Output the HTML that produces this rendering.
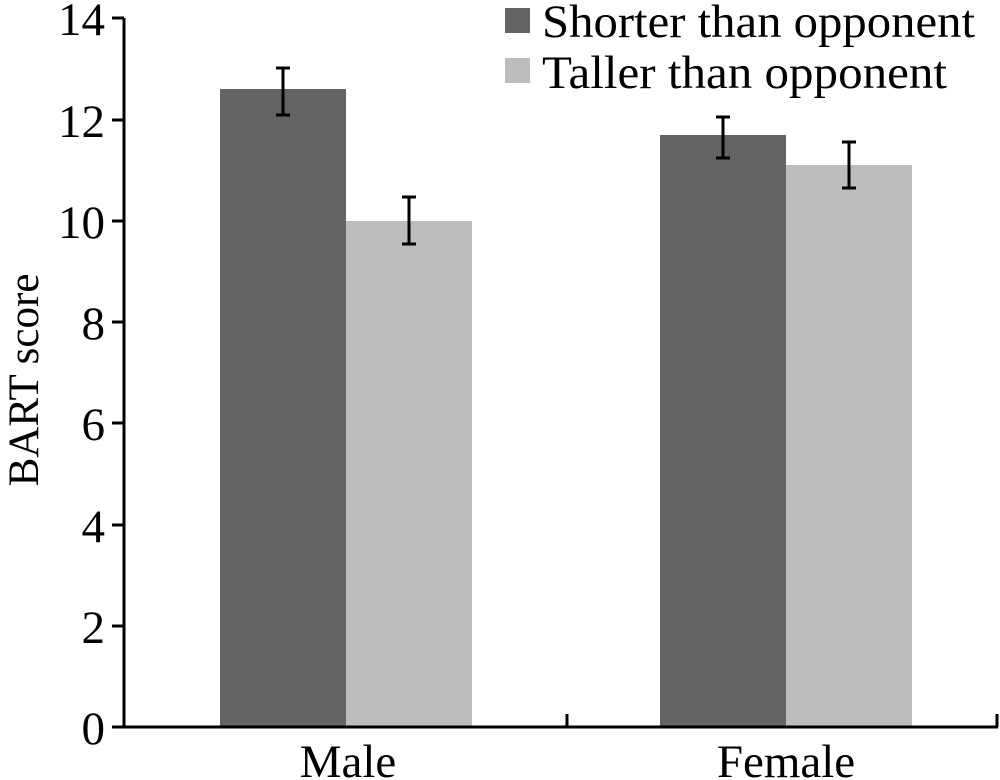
<!DOCTYPE html>
<html><head><style>body{margin:0;background:#fff}svg{display:block}</style></head><body>
<svg width="1000" height="780" xmlns="http://www.w3.org/2000/svg" font-family="Liberation Serif, serif">
<g fill="#646464">
<rect x="220" y="89" width="126" height="638"/>
<rect x="660" y="135" width="126" height="592"/>
<rect x="505" y="8" width="25" height="25"/>
</g>
<g fill="#bdbdbd">
<rect x="346" y="221" width="126" height="506"/>
<rect x="786" y="165" width="126" height="562"/>
<rect x="505" y="58" width="25" height="25"/>
</g>
<g stroke="#000" stroke-width="3" fill="none">
<path d="M283 68V115M276 68H290M276 115H290"/>
<path d="M409 197V244M402 197H416M402 244H416"/>
<path d="M723 117V158M716 117H730M716 158H730"/>
<path d="M849 142V188M842 142H856M842 188H856"/>
<path d="M124 18V727H998"/>
<path d="M567 727V714M997 727V714"/>
<path d="M124 18H112M124 120H112M124 221H112M124 322H112M124 423H112M124 525H112M124 626H112M124 727H112"/>
</g>
<g font-size="47" text-anchor="end">
<text x="105" y="35">14</text><text x="105" y="137">12</text><text x="105" y="238">10</text>
<text x="105" y="339">8</text><text x="105" y="440">6</text><text x="105" y="542">4</text>
<text x="105" y="643">2</text><text x="105" y="744">0</text>
</g>
<g font-size="47" text-anchor="middle">
<text x="348" y="777">Male</text><text x="786" y="777">Female</text>
<text font-size="43" transform="translate(38,380) rotate(-90)">BART score</text>
</g>
<g font-size="47" textLength="433">
<text x="542" y="37" textLength="433" lengthAdjust="spacingAndGlyphs">Shorter than opponent</text>
<text x="542" y="88" textLength="405" lengthAdjust="spacingAndGlyphs">Taller than opponent</text>
</g>
</svg>
</body></html>
